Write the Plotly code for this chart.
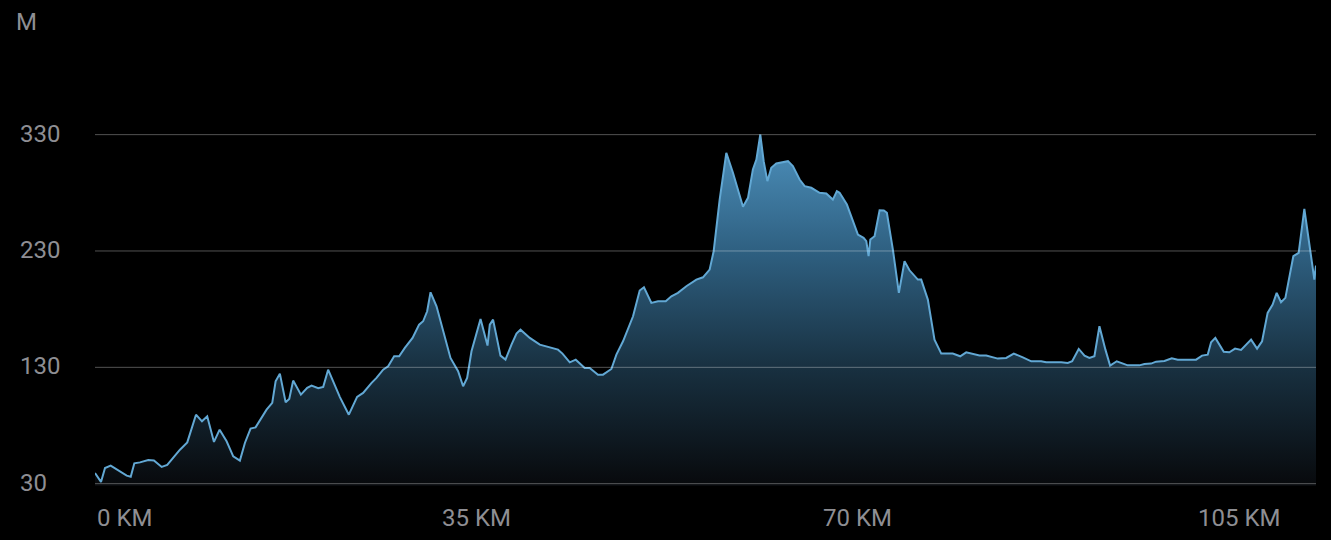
import plotly.graph_objects as go

# Distance (km) and elevation (m)
distance_km = [
    0.00, 0.55, 0.92, 1.44, 2.91, 3.28, 3.61, 4.13, 4.89, 5.41, 6.12, 6.63, 7.80, 8.47, 9.27,
    9.82, 10.30, 10.92, 11.44, 12.08, 12.69, 13.30, 13.76, 14.28, 14.74, 15.75, 16.27, 16.58,
    16.97, 17.50, 17.83, 18.19, 18.90, 19.48, 19.88, 20.49, 20.95, 21.40, 22.48,
    23.30, 24.06, 24.61, 25.39, 25.84, 26.45, 26.91, 27.46, 27.92, 28.44, 29.15, 29.75, 30.12,
    30.49, 30.80, 31.35, 31.95, 32.63, 33.33, 33.79, 34.16, 34.56, 35.39, 36.03, 36.24, 36.54,
    37.22, 37.68, 38.23, 38.69, 39.06, 39.91, 40.83, 41.59, 42.50, 42.91, 43.58, 44.13, 44.95,
    45.41,
    46.17, 46.63, 47.40, 47.86, 48.47, 49.39, 50.00, 50.39, 51.07, 51.68, 52.39, 52.91, 53.51,
    54.28, 55.20, 55.81, 56.42, 56.79, 57.34, 57.95, 58.56, 59.48, 59.94, 60.39, 60.71, 61.07,
    61.38, 61.72, 62.08, 62.54, 63.61, 64.06, 64.68, 65.14, 65.75, 66.51, 67.13, 67.73, 68.10,
    68.35,
    69.02, 70.03, 70.55, 70.80, 71.01, 71.17, 71.56, 72.02, 72.41, 72.69, 73.24, 73.79, 74.31,
    74.77, 75.14, 75.53, 75.84, 76.45, 77.06, 77.68, 78.74, 79.42, 79.97, 81.19, 81.81, 82.87,
    83.64, 84.34, 85.17, 85.94, 86.85, 87.31, 88.69, 89.29, 89.70, 90.30, 90.83, 91.28,
    91.74, 92.20, 92.75, 93.18, 93.79, 94.80, 95.87, 96.33, 96.94, 97.40, 98.17, 98.84, 99.39,
    101.07, 101.62, 102.14, 102.45, 102.84, 103.61, 104.13, 104.65, 105.20, 106.12, 106.67,
    107.13, 107.64, 108.10, 108.47, 108.87, 109.27, 110.00, 110.49, 111.01, 111.47, 111.93,
    112.08,
]
elevation_m = [
    39.2, 31.5, 43.5, 45.5, 36.9, 36.0, 47.5, 48.3, 50.4, 50.0, 44.4, 46.1, 59.2, 65.5, 89.3,
    83.6, 87.9, 65.9, 76.4, 66.4, 53.5, 49.8, 65.0, 77.3, 78.4, 93.6, 99.4, 118.0,
    124.6, 99.9, 102.8, 118.6, 106.5, 112.3, 114.3, 112.0, 113.2, 128.0, 104.4,
    89.3, 104.6, 108.0, 116.6, 120.9, 128.0, 130.9, 139.5, 139.5, 146.7, 155.3, 166.7, 169.6,
    178.2, 194.5, 182.5, 162.4, 138.1, 126.6, 113.7, 120.9, 143.8, 171.6, 148.7, 166.7, 171.0,
    140.1, 136.6, 149.5, 159.0, 162.4, 155.3, 149.5, 147.6, 145.2, 141.8, 134.3, 136.6, 129.5,
    129.5,
    123.7, 123.7, 128.6, 140.9, 152.4, 173.9, 196.0, 198.8, 185.4, 186.8, 186.8, 191.1, 194.0,
    199.7, 205.4, 207.4, 214.0, 229.8, 274.2, 314.4, 297.2, 268.0, 275.7, 300.0, 308.6, 330.1,
    307.2, 290.0, 301.5, 305.2, 307.2, 302.9, 291.4, 285.7, 284.3, 280.0, 279.4, 274.2, 281.4,
    280.0,
    269.9, 244.1, 241.3, 238.4, 225.5, 239.8, 242.7, 265.0, 264.8, 262.8, 231.2, 194.0, 221.2,
    213.4, 209.7, 205.4, 205.4, 188.2, 153.8, 141.8, 141.8, 139.5, 142.9, 140.1, 140.1, 137.5,
    138.1, 141.8, 138.6, 135.2, 135.2, 134.3, 134.3, 133.8, 135.2, 145.8, 140.1, 138.1,
    139.5, 165.3, 145.2, 131.5, 135.2, 131.7, 131.7, 132.9, 133.2, 134.9, 135.5, 137.8, 136.6,
    136.6, 140.1, 140.9, 151.5, 155.3, 143.3, 142.9, 146.1, 145.0, 153.8, 146.1,
    152.4, 176.8, 183.9, 194.0, 185.9, 189.7, 225.5, 228.4, 266.2, 237.0, 205.4,
    217.5,
]

y_ticks = [30, 130, 230, 330]
y_tick_labels = ["30", "130", "230", "330"]
x_ticks = [0, 35, 70, 105]
x_tick_labels = ["0 KM", "35 KM", "70 KM", "105 KM"]
y_unit = "M"

LABEL_COLOR = "#8e8e93"
FONT = "Roboto, Inter, 'Liberation Sans', sans-serif"
FONT_SIZE = 24

fig = go.Figure()
fig.add_trace(go.Scatter(
    x=distance_km, y=elevation_m,
    mode="lines",
    line=dict(color="#62a8d4", width=2),
    fill="tozeroy",
    fillgradient=dict(
        type="vertical",
        start=30, stop=330,
        colorscale=[[0.0, "rgb(8,10,13)"], [0.33, "rgb(24,48,64)"],
                    [0.66, "rgb(46,95,128)"], [1.0, "rgb(78,146,190)"]],
    ),
    hoverinfo="skip",
))

shapes = [
    dict(type="line", xref="paper", x0=0, x1=1, yref="y", y0=v, y1=v,
         layer="above", line=dict(color="rgba(255,255,255,0.32)", width=1))
    for v in y_ticks
]

annotations = []
for v, t in zip(y_ticks, y_tick_labels):
    annotations.append(dict(
        xref="paper", x=0, yref="y", y=v, text=t, showarrow=False,
        xanchor="left", yanchor="middle", xshift=-77, yshift=1,
        font=dict(family=FONT, size=FONT_SIZE, color=LABEL_COLOR),
    ))
for v, t in zip(x_ticks, x_tick_labels):
    annotations.append(dict(
        xref="x", x=v, yref="paper", y=0, text=t, showarrow=False,
        xanchor="left" if v == x_ticks[0] else "center", yanchor="middle",
        yshift=-32,
        font=dict(family=FONT, size=FONT_SIZE, color=LABEL_COLOR),
    ))
annotations.append(dict(
    xref="paper", x=0, yref="paper", y=1, text=y_unit, showarrow=False,
    xanchor="left", yanchor="middle", xshift=-81, yshift=101,
    font=dict(family=FONT, size=FONT_SIZE, color=LABEL_COLOR),
))

fig.update_layout(
    width=1331, height=540,
    paper_bgcolor="black", plot_bgcolor="black",
    margin=dict(l=95, r=15, t=123, b=54),
    showlegend=False,
    xaxis=dict(range=[0, max(distance_km)], showgrid=False, zeroline=False,
               showticklabels=False, showline=False, fixedrange=True),
    yaxis=dict(range=[28, 340], showgrid=False, zeroline=False,
               showticklabels=False, showline=False, fixedrange=True),
    shapes=shapes,
    annotations=annotations,
)

fig.write_html(
    "out.html",
    config={"displayModeBar": False},
    post_script="document.body.style.margin='0';document.body.style.background='black';",
)
